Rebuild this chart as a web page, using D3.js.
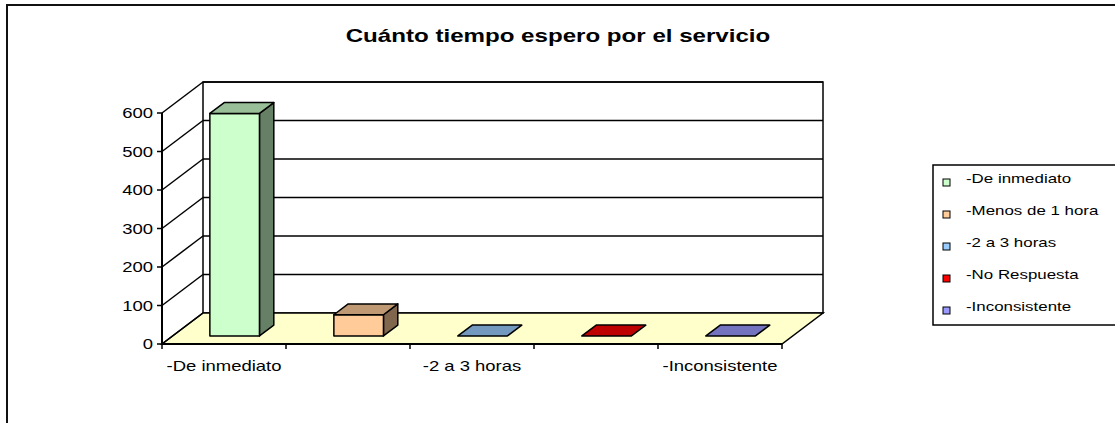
<!DOCTYPE html>
<html>
<head>
<meta charset="utf-8">
<script src="https://cdn.jsdelivr.net/npm/d3@7"></script>
<style>
  body { margin: 0; background: #fff; }
  text { font-family: "Liberation Sans", Arial, sans-serif; fill: #000; }
</style>
</head>
<body>
<svg id="chart" width="1115" height="423"></svg>
<script>
// data
const categories = ["-De inmediato", "-Menos  de 1 hora", "-2 a 3 horas", "-No Respuesta", "-Inconsistente"];
const values = [578, 55, 0, 0, 0];
const colors = ["#CCFFCC", "#FFCC99", "#99CCFF", "#FF0000", "#9999FF"];
const yTicks = [0, 100, 200, 300, 400, 500, 600];
const xLabelShown = ["-De inmediato", "-2 a 3 horas", "-Inconsistente"];

const svg = d3.select("#chart");
const stretch = 1.32; // text looks horizontally stretched in the reference

// outer frame
svg.append("path").attr("d", "M7,423 V5 H1115").attr("fill", "none").attr("stroke", "#111").attr("stroke-width", 2);

// title
svg.append("text")
  .attr("transform", `translate(558,42) scale(1.34,1)`)
  .attr("text-anchor", "middle")
  .style("font-size", "18px").style("font-weight", "bold")
  .text("Cuánto tiempo espero por el servicio");

// 3D geometry
const depth = { dx: 41, dy: -31 };
const front = { left: 162, right: 782 };
const y = d3.scaleLinear().domain([0, 600]).range([344, 113]);
const x = d3.scaleBand().domain(categories).range([front.left, front.right]).paddingInner(0.6).paddingOuter(0.3);
const band = d3.scaleBand().domain(categories).range([front.left, front.right]);
const P = (px, py, f) => [px + f * depth.dx, py + f * depth.dy];
const poly = pts => "M" + pts.map(p => p.join(",")).join("L") + "Z";

const g = svg.append("g");

// back wall
g.append("rect")
  .attr("x", front.left + depth.dx).attr("y", y(600) + depth.dy)
  .attr("width", front.right - front.left).attr("height", y(0) - y(600))
  .attr("fill", "#fff").attr("stroke", "#000").attr("stroke-width", 1.5);

// floor
g.append("path")
  .attr("d", poly([P(front.left, y(0), 0), P(front.right, y(0), 0), P(front.right, y(0), 1), P(front.left, y(0), 1)]))
  .attr("fill", "#FFFFCC").attr("stroke", "#000").attr("stroke-width", 1.5);

// gridlines on back wall + diagonals on side wall
yTicks.forEach(v => {
  const [bx, by] = P(front.left, y(v), 1);
  if (v > 0) {
    g.append("line").attr("x1", bx).attr("x2", bx + front.right - front.left)
      .attr("y1", by).attr("y2", by).attr("stroke", "#000").attr("stroke-width", 1.5);
  }
  g.append("line").attr("x1", front.left).attr("y1", y(v)).attr("x2", bx).attr("y2", by)
    .attr("stroke", "#000").attr("stroke-width", 1.5);
});

// y axis
g.append("line").attr("x1", front.left).attr("x2", front.left).attr("y1", y(0)).attr("y2", y(600))
  .attr("stroke", "#000").attr("stroke-width", 2);
yTicks.forEach(v => {
  g.append("line").attr("x1", front.left - 5).attr("x2", front.left).attr("y1", y(v)).attr("y2", y(v))
    .attr("stroke", "#000").attr("stroke-width", 1.5);
  g.append("text")
    .attr("transform", `translate(${front.left - 9},${y(v) + 5}) scale(${stretch},1)`)
    .attr("text-anchor", "end").style("font-size", "14px").text(v);
});

// x axis ticks and labels
g.append("line").attr("x1", front.left).attr("x2", front.right).attr("y1", y(0)).attr("y2", y(0))
  .attr("stroke", "#000").attr("stroke-width", 2);
categories.forEach((c, i) => {
  const tx = band(c);
  g.append("line").attr("x1", tx).attr("x2", tx).attr("y1", y(0)).attr("y2", y(0) + 5)
    .attr("stroke", "#000").attr("stroke-width", 1.5);
  if (xLabelShown.includes(c)) {
    g.append("text")
      .attr("transform", `translate(${tx + band.bandwidth() / 2},${y(0) + 27}) scale(${stretch},1)`)
      .attr("text-anchor", "middle").style("font-size", "14px").text(c);
  }
});
g.append("line").attr("x1", front.right).attr("x2", front.right).attr("y1", y(0)).attr("y2", y(0) + 5)
  .attr("stroke", "#000").attr("stroke-width", 1.5);

// bars
const f1 = 0.26, f2 = 0.61;
categories.forEach((c, i) => {
  const v = values[i];
  const col = d3.color(colors[i]);
  const topCol = d3.rgb(col.r * 0.75, col.g * 0.75, col.b * 0.75);
  const sideCol = d3.rgb(col.r * 0.5, col.g * 0.5, col.b * 0.5);
  const x0 = x(c), x1 = x(c) + x.bandwidth();
  const yb = y(0), yt = y(v);
  const sw = 1.5;
  if (v > 0) {
    g.append("path").attr("d", poly([P(x1, yt, f1), P(x1, yt, f2), P(x1, yb, f2), P(x1, yb, f1)]))
      .attr("fill", sideCol).attr("stroke", "#000").attr("stroke-width", sw).attr("stroke-linejoin", "round");
    g.append("path").attr("d", poly([P(x0, yt, f1), P(x1, yt, f1), P(x1, yb, f1), P(x0, yb, f1)]))
      .attr("fill", col).attr("stroke", "#000").attr("stroke-width", sw).attr("stroke-linejoin", "round");
  }
  g.append("path").attr("d", poly([P(x0, yt, f1), P(x1, yt, f1), P(x1, yt, f2), P(x0, yt, f2)]))
    .attr("fill", topCol).attr("stroke", "#000").attr("stroke-width", sw).attr("stroke-linejoin", "round");
});

// legend
const legend = svg.append("g").attr("transform", "translate(933,165)");
legend.append("rect").attr("x", 0).attr("y", 0).attr("width", 200).attr("height", 160)
  .attr("fill", "#fff").attr("stroke", "#000").attr("stroke-width", 1.5);
categories.forEach((c, i) => {
  const ly = 13 + i * 32;
  legend.append("rect").attr("x", 10).attr("y", ly + 1).attr("width", 7).attr("height", 7)
    .attr("fill", colors[i]).attr("stroke", "#000").attr("stroke-width", 1);
  legend.append("text")
    .attr("transform", `translate(33,${ly + 5}) scale(1.3,1)`)
    .style("font-size", "13px").text(c);
});
</script>
</body>
</html>
